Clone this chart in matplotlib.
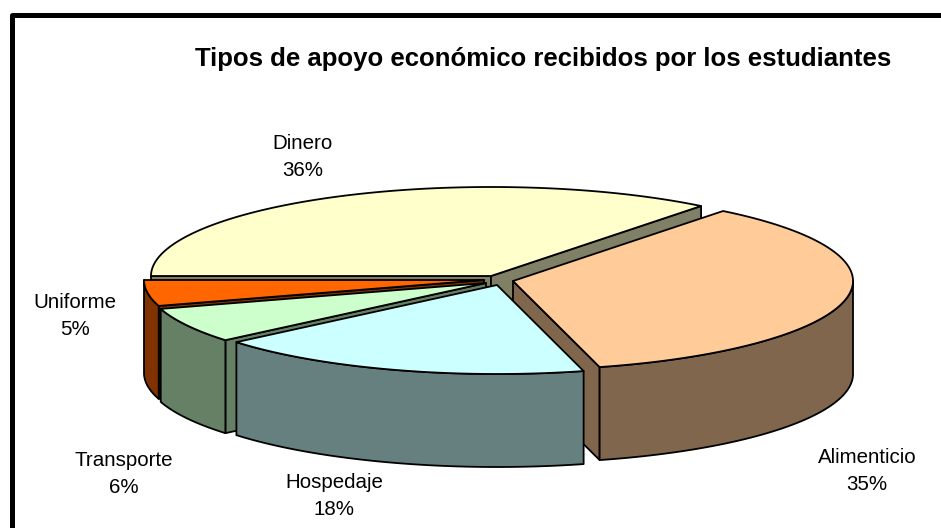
import numpy as np
import matplotlib
matplotlib.use("Agg")
import matplotlib.pyplot as plt

title = "Tipos de apoyo económico recibidos por los estudiantes"
categories = ["Dinero", "Alimenticio", "Hospedaje", "Transporte", "Uniforme"]
values = [35.6, 35.3, 18.0, 6.4, 4.7]
top_colors = ["#FFFFCC", "#FFCC99", "#CCFFFF", "#CCFFCC", "#FF6600"]
side_colors = ["#808066", "#80664D", "#668080", "#668066", "#803300"]
centers = [(491, 276), (513, 281), (497, 285), (486, 283), (484, 280)]
label_pos = [(303, 157), (867, 471), (334, 496), (124, 474), (75, 316)]
draw_order = [0, 1, 4, 3, 2]

RX, RY, DEPTH = 340, 89, 93
START_ANGLE = 180

plt.rcParams["font.family"] = ["Liberation Sans", "DejaVu Sans"]
fig = plt.figure(figsize=(9.41, 5.28), dpi=100)
ax = fig.add_axes([0, 0, 1, 1])
ax.set_xlim(0, 941)
ax.set_ylim(528, 0)
ax.axis("off")

EDGE = dict(edgecolor="black", linewidth=1.3, joinstyle="round")

ax.plot([12.5, 12.5, 960], [540, 14.5, 14.5], color="black", lw=3.6,
        solid_joinstyle="round", clip_on=True)

shares = np.array(values, dtype=float) / np.sum(values) * 360
ends = START_ANGLE - np.cumsum(shares)
starts = ends + shares


def ellipse(c, t):
    r = np.radians(t)
    return c[0] + RX * np.cos(r), c[1] - RY * np.sin(r)


for i in draw_order:
    c, a0, a1 = centers[i], starts[i], ends[i]
    top, side = top_colors[i], side_colors[i]
    # cut walls that face the viewer
    walls = []
    if np.cos(np.radians(a0)) < 0:
        walls.append(a0)
    if np.cos(np.radians(a1)) > 0:
        walls.append(a1)
    for a in walls:
        x, y = ellipse(c, a)
        ax.fill([c[0], x, x, c[0]], [c[1], y, y + DEPTH, c[1] + DEPTH],
                facecolor=side, **EDGE)
    # outer rim, only the part that faces the viewer
    lo, hi = max(a1, -180), min(a0, 0)
    if hi > lo:
        t = np.linspace(lo, hi, 80)
        x, y = ellipse(c, t)
        ax.fill(np.r_[x, x[::-1]], np.r_[y, y[::-1] + DEPTH],
                facecolor=side, **EDGE)
    # top face
    t = np.linspace(a0, a1, 160)
    x, y = ellipse(c, t)
    ax.fill(np.r_[c[0], x], np.r_[c[1], y], facecolor=top, **EDGE)

ax.text(543, 59, title, ha="center", va="center", fontsize=18.5,
        fontweight="bold", color="black")

for cat, val, (lx, ly) in zip(categories, values, label_pos):
    ax.text(lx, ly, f"{cat}\n{val:.0f}%", ha="center", va="center",
            fontsize=14.8, linespacing=1.5, color="black")

fig.savefig("out.png", dpi=100)
